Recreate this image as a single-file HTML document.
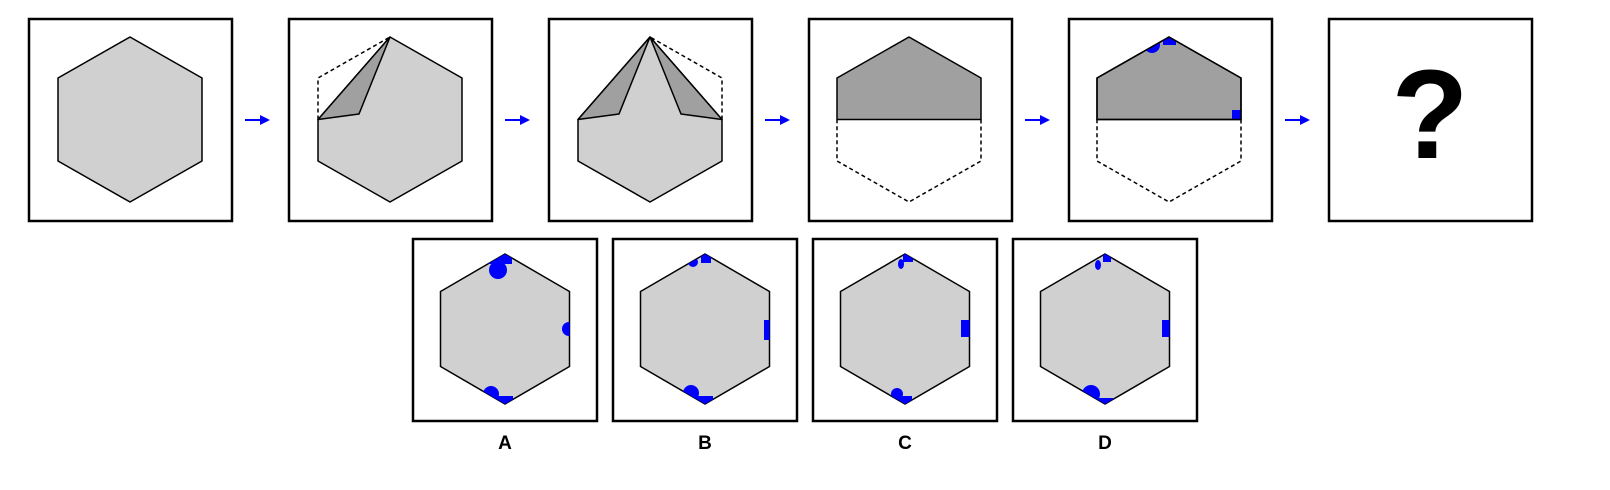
<!DOCTYPE html>
<html><head><meta charset="utf-8"><style>
html,body{margin:0;padding:0;background:#fff;}
svg{display:block;}
</style></head><body>
<svg width="1610" height="490" viewBox="0 0 1610 490" xmlns="http://www.w3.org/2000/svg">
<defs>
<clipPath id="hA"><polygon points="505,254 569.5,291.5 569.5,366.5 505,404 440.5,366.5 440.5,291.5"/></clipPath>
<clipPath id="hB"><polygon points="705,254 769.5,291.5 769.5,366.5 705,404 640.5,366.5 640.5,291.5"/></clipPath>
<clipPath id="hC"><polygon points="905,254 969.5,291.5 969.5,366.5 905,404 840.5,366.5 840.5,291.5"/></clipPath>
<clipPath id="hD"><polygon points="1105,254 1169.5,291.5 1169.5,366.5 1105,404 1040.5,366.5 1040.5,291.5"/></clipPath>
<clipPath id="h5"><polygon points="1169,37 1241,78 1241,119.5 1097,119.5 1097,78"/></clipPath>
</defs>
<g fill="none" stroke="#000" stroke-width="2.5">
<rect x="29" y="19" width="203" height="202"/>
<rect x="289" y="19" width="203" height="202"/>
<rect x="549" y="19" width="203" height="202"/>
<rect x="809" y="19" width="203" height="202"/>
<rect x="1069" y="19" width="203" height="202"/>
<rect x="1329" y="19" width="203" height="202"/>
<rect x="413" y="239" width="184" height="182"/>
<rect x="613" y="239" width="184" height="182"/>
<rect x="813" y="239" width="184" height="182"/>
<rect x="1013" y="239" width="184" height="182"/>
</g>
<g fill="#0000ff" stroke="#0000ff" stroke-width="2">
<line x1="245" y1="120" x2="262" y2="120"/><polygon stroke="none" points="260,115 270,120 260,125"/>
<line x1="505" y1="120" x2="522" y2="120"/><polygon stroke="none" points="520,115 530,120 520,125"/>
<line x1="765" y1="120" x2="782" y2="120"/><polygon stroke="none" points="780,115 790,120 780,125"/>
<line x1="1025" y1="120" x2="1042" y2="120"/><polygon stroke="none" points="1040,115 1050,120 1040,125"/>
<line x1="1285" y1="120" x2="1302" y2="120"/><polygon stroke="none" points="1300,115 1310,120 1300,125"/>
</g>
<g stroke="#000" stroke-width="1.5" stroke-linejoin="round">
<polygon fill="#d0d0d0" points="130,37 202,78 202,161 130,202 58,161 58,78"/>
<polygon fill="#d0d0d0" points="390,37 462,78 462,161 390,202 318,161 318,119.5"/>
<polygon fill="#a0a0a0" points="390,37 318,119.5 359,114"/>
<polyline fill="none" stroke-dasharray="4,3" points="318,119.5 318,78 390,37"/>
<polygon fill="#d0d0d0" points="650,37 722,119.5 722,161 650,202 578,161 578,119.5"/>
<polygon fill="#a0a0a0" points="650,37 578,119.5 619,114"/>
<polygon fill="#a0a0a0" points="650,37 722,119.5 681,114"/>
<polyline fill="none" stroke-dasharray="4,3" points="722,119.5 722,78 650,37"/>
<polygon fill="#a0a0a0" points="909,37 981,78 981,119.5 837,119.5 837,78"/>
<polyline fill="none" stroke-dasharray="4,3" points="981,119.5 981,161 909,202 837,161 837,119.5"/>
<polygon fill="#a0a0a0" points="1169,37 1241,78 1241,119.5 1097,119.5 1097,78"/>
<polyline fill="none" stroke-dasharray="4,3" points="1241,119.5 1241,161 1169,202 1097,161 1097,119.5"/>
</g>
<g fill="#0000ff" clip-path="url(#h5)">
<circle cx="1152" cy="45" r="8"/><rect x="1163" y="36" width="13" height="9"/><rect x="1232" y="110" width="9" height="9"/>
</g>
<polygon fill="none" stroke="#000" stroke-width="1.5" points="1169,37 1241,78 1241,119.5 1097,119.5 1097,78"/>
<text x="1430" y="158" text-anchor="middle" font-family="Liberation Sans, sans-serif" font-weight="bold" font-size="126">?</text>
<g stroke="#000" stroke-width="1.5" fill="#d0d0d0">
<polygon points="505,254 569.5,291.5 569.5,366.5 505,404 440.5,366.5 440.5,291.5"/>
<polygon points="705,254 769.5,291.5 769.5,366.5 705,404 640.5,366.5 640.5,291.5"/>
<polygon points="905,254 969.5,291.5 969.5,366.5 905,404 840.5,366.5 840.5,291.5"/>
<polygon points="1105,254 1169.5,291.5 1169.5,366.5 1105,404 1040.5,366.5 1040.5,291.5"/>
</g>
<g fill="#0000ff" clip-path="url(#hA)">
<circle cx="498" cy="270" r="9"/><rect x="488" y="254" width="24" height="10"/><circle cx="569" cy="329" r="7"/>
<circle cx="491" cy="394" r="8"/><rect x="491" y="396" width="22" height="10"/>
</g>
<g fill="#0000ff" clip-path="url(#hB)">
<circle cx="693" cy="262" r="5"/><rect x="701" y="254" width="10" height="9"/><rect x="764" y="320" width="7" height="20"/>
<circle cx="691" cy="393" r="8"/><rect x="691" y="396" width="22" height="10"/>
</g>
<g fill="#0000ff" clip-path="url(#hC)">
<ellipse cx="901" cy="264" rx="3" ry="5"/><rect x="903" y="254" width="10" height="8"/><rect x="961" y="320" width="9" height="17"/>
<circle cx="897" cy="394" r="6"/><rect x="899" y="396" width="13" height="10"/>
</g>
<g fill="#0000ff" clip-path="url(#hD)">
<ellipse cx="1098" cy="265" rx="3" ry="5"/><rect x="1103" y="254" width="8" height="8"/><rect x="1162" y="320" width="8" height="17"/>
<circle cx="1091" cy="394" r="9"/><rect x="1091" y="398" width="22" height="10"/>
</g>
<g font-family="Liberation Sans, sans-serif" font-weight="bold" font-size="19" text-anchor="middle">
<text x="505" y="449">A</text>
<text x="705" y="449">B</text>
<text x="905" y="449">C</text>
<text x="1105" y="449">D</text>
</g>
</svg>
</body></html>
